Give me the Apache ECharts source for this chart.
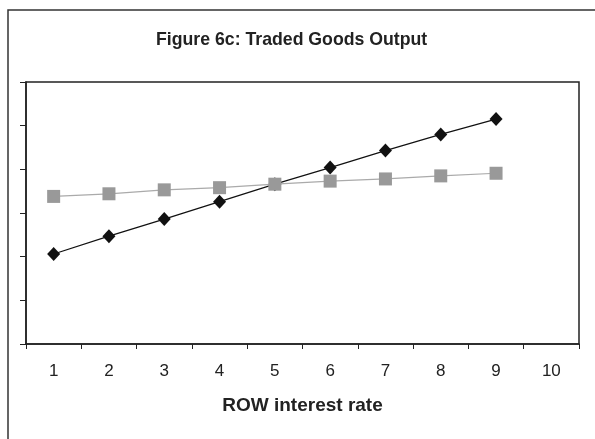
<!DOCTYPE html>
<html>
<head>
<meta charset="utf-8">
<script src="https://cdn.jsdelivr.net/npm/echarts@6/dist/echarts.min.js"></script>
<style>
  html, body { margin: 0; padding: 0; background: #fff; }
  #chart { width: 595px; height: 439px; }
</style>
</head>
<body>
<div id="chart"></div>
<script>
// x categories (ROW interest rate)
var rates = ["1", "2", "3", "4", "5", "6", "7", "8", "9", "10"];
// black diamonds
var seriesA = [2.06, 2.47, 2.86, 3.26, 3.66, 4.04, 4.43, 4.80, 5.15];
// grey squares
var seriesB = [3.38, 3.44, 3.53, 3.58, 3.66, 3.73, 3.78, 3.85, 3.91];

var chart = echarts.init(document.getElementById("chart"));
chart.setOption({
  animation: false,
  backgroundColor: "#fff",
  textStyle: { fontFamily: "Liberation Sans, Arial, sans-serif" },
  title: {
    text: "Figure 6c: Traded Goods Output",
    left: 151,
    top: 26,
    textStyle: { fontSize: 17.7, fontWeight: "bold", color: "#222" }
  },
  // outer frame (only top and left edges fall inside the picture)
  graphic: [
    {
      type: "rect",
      shape: { x: 8, y: 10, width: 620, height: 460 },
      style: { fill: null, stroke: "#333", lineWidth: 1.5 },
      silent: true
    }
  ],
  grid: {
    left: 26,
    top: 82,
    right: 16,
    bottom: 95,
    show: true,
    borderColor: "#222",
    borderWidth: 1.5
  },
  xAxis: {
    type: "category",
    data: rates,
    boundaryGap: true,
    axisLine: { lineStyle: { color: "#222", width: 1.5 } },
    axisTick: { show: true, alignWithLabel: false, length: 5, lineStyle: { color: "#222" } },
    axisLabel: { fontSize: 17, color: "#222", margin: 19 },
    name: "ROW interest rate",
    nameLocation: "middle",
    nameGap: 52,
    nameTextStyle: { fontSize: 19, fontWeight: "bold", color: "#222" }
  },
  yAxis: {
    type: "value",
    min: 0,
    max: 6,
    interval: 1,
    axisLine: { show: true, lineStyle: { color: "#222", width: 1.5 } },
    axisTick: { show: true, length: 6, lineStyle: { color: "#222" } },
    axisLabel: { show: false },
    splitLine: { show: false }
  },
  series: [
    {
      type: "line",
      data: seriesB,
      symbol: "rect",
      symbolSize: 13,
      itemStyle: { color: "#999" },
      lineStyle: { color: "#aaa", width: 1.2 },
      z: 2
    },
    {
      type: "line",
      data: seriesA,
      symbol: "diamond",
      symbolSize: [13, 14],
      itemStyle: { color: "#111" },
      lineStyle: { color: "#111", width: 1.2 },
      z: 1
    }
  ]
});
</script>
</body>
</html>
